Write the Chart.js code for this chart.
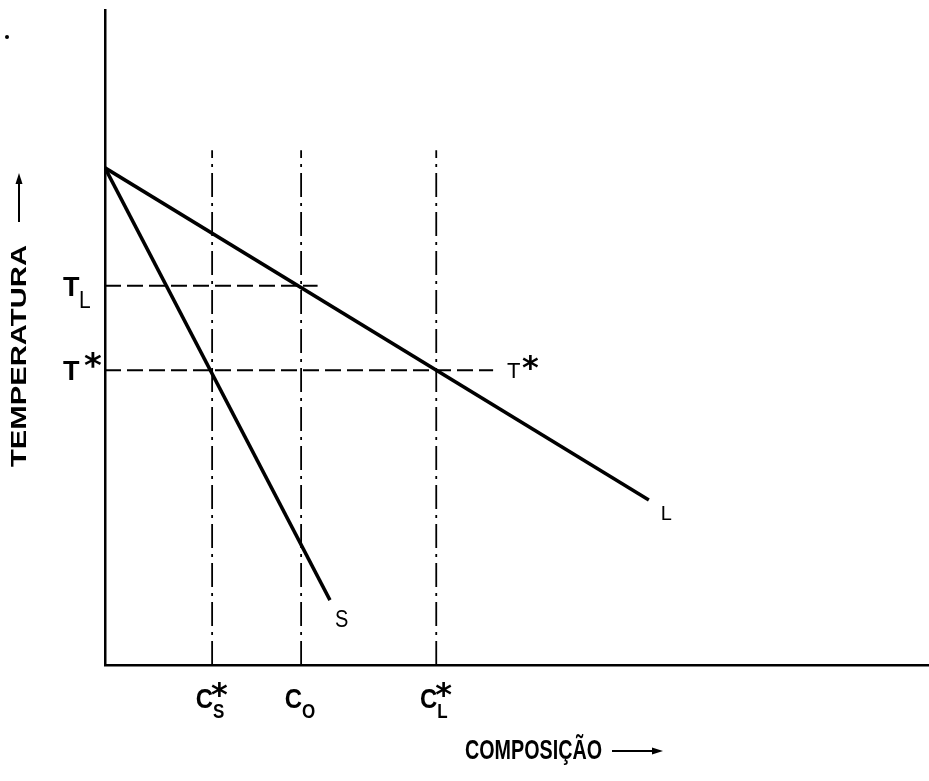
<!DOCTYPE html>
<html>
<head>
<meta charset="utf-8">
<script src="https://cdn.jsdelivr.net/npm/chart.js@4/dist/chart.umd.min.js"></script>
<style>
html, body { margin: 0; padding: 0; background: #fff; }
#wrap { width: 929px; height: 781px; position: relative; }
</style>
</head>
<body>
<div id="wrap"><canvas id="diagram"></canvas></div>
<script>
// composition marks on the x axis: [main, subscript, superscript]
const compLabels = [['C', 'S', '*'], ['C', 'O', ''], ['C', 'L', '*']];
const compValues = [13.0, 23.8, 40.2];

// temperature levels on the y axis
const tempLabels = [['T', 'L', ''], ['T', '', '*']];
const tempValues = [57.9, 45.0];
const tempGuideEnds = [25.8, 47.1];   // where the dashed guides stop (composition)
const guideTop = 78.6;                // top of the vertical guides (temperature)

// liquidus and solidus lines
const liquidusX = [0, 66.0];
const liquidusY = [75.9, 25.2];
const solidusX = [0, 27.3];
const solidusY = [75.9, 9.9];

const INK = '#000';
const FONT = '"Liberation Sans", Arial';
const STAR = '"DejaVu Sans", sans-serif';

function pts(xs, ys) {
    return xs.map((x, i) => ({ x, y: ys[i] }));
}

const datasets = [
    { label: 'L', data: pts(liquidusX, liquidusY), borderWidth: 3.5 },
    { label: 'S', data: pts(solidusX, solidusY), borderWidth: 3.5 }
];

compValues.forEach((v, i) => {
    datasets.push({
        label: compLabels[i].join(''),
        data: pts([v, v], [0, guideTop]),
        borderWidth: 1.8,
        borderDash: [24, 6, 3, 6]
    });
});

tempValues.forEach((v, i) => {
    datasets.push({
        label: tempLabels[i].join(''),
        data: pts([0, tempGuideEnds[i]], [v, v]),
        borderWidth: 1.8,
        borderDash: [16, 6]
    });
});

datasets.forEach(d => {
    d.borderColor = INK;
    d.showLine = true;
    d.pointRadius = 0;
    d.tension = 0;
    d.fill = false;
});

// draws text stretched vertically like the scanned original
function stretchText(ctx, txt, x, y, font, sy, align, rot, sx) {
    ctx.save();
    ctx.translate(x, y);
    ctx.scale(sx || 1, sy);
    if (rot) ctx.rotate(rot);
    ctx.font = font;
    ctx.textAlign = align || 'left';
    ctx.textBaseline = 'alphabetic';
    ctx.fillStyle = INK;
    ctx.fillText(txt, 0, 0);
    ctx.restore();
}

function arrowHead(ctx, x, y, dir) {
    ctx.save();
    ctx.translate(x, y);
    ctx.rotate(dir);
    ctx.beginPath();
    ctx.moveTo(0, 0);
    ctx.lineTo(-11, -3.5);
    ctx.lineTo(-11, 3.5);
    ctx.closePath();
    ctx.fill();
    ctx.restore();
}

const labelPlugin = {
    id: 'labels',
    afterDraw(chart) {
        const ctx = chart.ctx;
        const xs = chart.scales.x;
        const ys = chart.scales.y;
        const base = chart.chartArea.bottom;
        ctx.save();
        ctx.fillStyle = INK;
        ctx.strokeStyle = INK;

        // composition marks
        compValues.forEach((v, i) => {
            const px = xs.getPixelForValue(v);
            const [main, sub, sup] = compLabels[i];
            stretchText(ctx, main, px + 1, base + 43, 'bold 24px ' + FONT, 1.18, 'right');
            if (sub) stretchText(ctx, sub, px + 1, base + 53, 'bold 17px ' + FONT, 1.2, 'left');
            if (sup) stretchText(ctx, sup, px - 1, base + 40, 'bold 32px ' + STAR, 1.0, 'left');
        });

        // temperature levels on the left
        tempValues.forEach((v, i) => {
            const py = ys.getPixelForValue(v);
            const [main, sub, sup] = tempLabels[i];
            stretchText(ctx, main, 63, py + 10, 'bold 27px ' + FONT, 1.0, 'left');
            if (sub) stretchText(ctx, sub, 79, py + 22, '21px ' + FONT, 1.1, 'left');
            if (sup) stretchText(ctx, sup, 84, py + 7, 'bold 34px ' + STAR, 1.0, 'left');
        });

        // T* at the end of its guide
        const tIdx = 1;
        const gx = xs.getPixelForValue(tempGuideEnds[tIdx]);
        const gy = ys.getPixelForValue(tempValues[tIdx]);
        stretchText(ctx, 'T', gx + 14, gy + 8, '22px ' + FONT, 1.0, 'left');
        stretchText(ctx, '*', gx + 29, gy + 8, 'bold 32px ' + STAR, 1.0, 'left');

        // curve names
        const lx = xs.getPixelForValue(liquidusX[1]);
        const ly = ys.getPixelForValue(liquidusY[1]);
        stretchText(ctx, 'L', lx + 12, ly + 20, '20px ' + FONT, 1.05, 'left');
        const sxp = xs.getPixelForValue(solidusX[1]);
        const syp = ys.getPixelForValue(solidusY[1]);
        stretchText(ctx, 'S', sxp + 5, syp + 27, '20px ' + FONT, 1.2, 'left');

        // x axis title with arrow
        ctx.font = 'bold 20px ' + FONT;
        const cw = ctx.measureText('COMPOSIÇÃO').width;
        stretchText(ctx, 'COMPOSIÇÃO', 465, 759, 'bold 20px ' + FONT, 1.35, 'left', 0, 137 / cw);
        ctx.lineWidth = 2;
        ctx.beginPath();
        ctx.moveTo(612, 751);
        ctx.lineTo(655, 751);
        ctx.stroke();
        arrowHead(ctx, 663, 751, 0);

        // y axis title with arrow
        ctx.font = 'bold 22px ' + FONT;
        const tw = ctx.measureText('TEMPERATURA').width;
        stretchText(ctx, 'TEMPERATURA', 26, 467, 'bold 22px ' + FONT, 222 / tw, 'left', -Math.PI / 2);
        ctx.beginPath();
        ctx.moveTo(19, 222);
        ctx.lineTo(19, 182);
        ctx.stroke();
        arrowHead(ctx, 19, 173, -Math.PI / 2);

        // speck from the scan
        ctx.beginPath();
        ctx.arc(7, 37, 2, 0, Math.PI * 2);
        ctx.fill();

        ctx.restore();
    }
};

new Chart(document.getElementById('diagram'), {
    type: 'scatter',
    data: { datasets },
    options: {
        responsive: true,
        maintainAspectRatio: false,
        animation: false,
        layout: { padding: { top: 10, right: 0, left: 0, bottom: 0 } },
        plugins: {
            legend: { display: false },
            tooltip: { enabled: false }
        },
        scales: {
            x: {
                type: 'linear',
                min: 0,
                max: 100,
                grid: { display: false, drawTicks: false },
                ticks: { display: false },
                border: { display: true, color: INK, width: 2.5 },
                afterFit: (scale) => { scale.height = 116; }
            },
            y: {
                type: 'linear',
                min: 0,
                max: 100,
                grid: { display: false, drawTicks: false },
                ticks: { display: false },
                border: { display: true, color: INK, width: 2.5 },
                afterFit: (scale) => { scale.width = 105; }
            }
        }
    },
    plugins: [labelPlugin]
});
</script>
</body>
</html>
